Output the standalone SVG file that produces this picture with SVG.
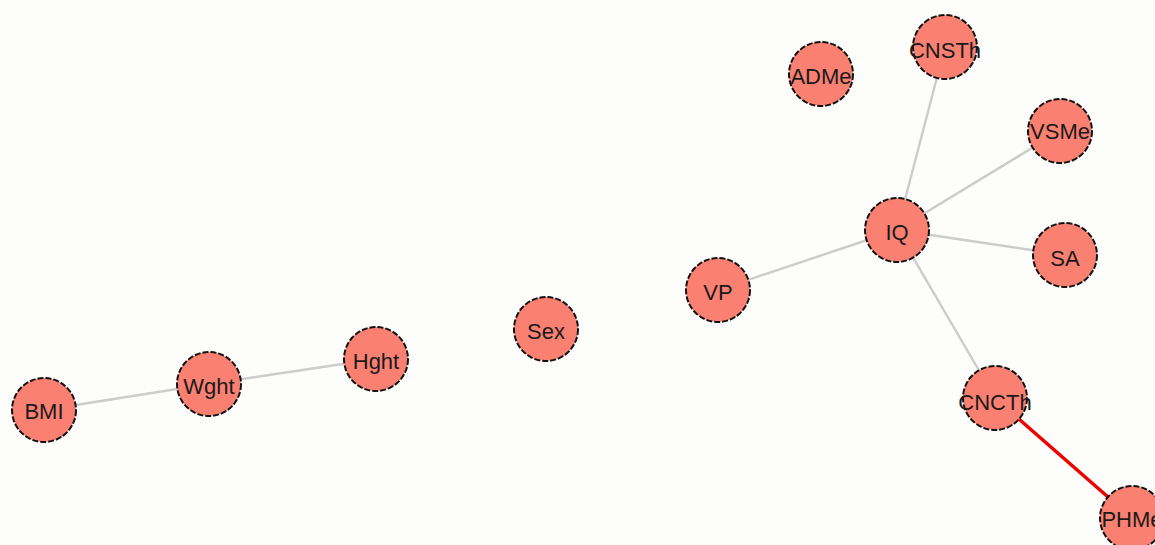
<svg xmlns="http://www.w3.org/2000/svg" width="1155" height="545" viewBox="0 0 1155 545">
<style>
.n{fill:#FA8072;stroke:#111;stroke-width:2;stroke-dasharray:6 2}
.t{font-family:"Liberation Sans",Arial,sans-serif;font-size:22px;fill:#1a1a1a;text-anchor:middle;dominant-baseline:central}
.e{stroke:#cccccc;stroke-width:2.4;fill:none}
.r{stroke:#ee0000;stroke-width:3.4;fill:none}
</style>
<rect width="1155" height="545" fill="#fdfdfc"/>
<g id="edges">
<line class="e" x1="897" y1="230" x2="945" y2="47"/>
<line class="e" x1="897" y1="230" x2="1060" y2="131"/>
<line class="e" x1="897" y1="230" x2="1065" y2="255"/>
<line class="e" x1="897" y1="230" x2="718" y2="290"/>
<line class="e" x1="897" y1="230" x2="995" y2="398"/>
<line class="r" x1="995" y1="398" x2="1132" y2="518"/>
<line class="e" x1="44" y1="410" x2="209" y2="384"/>
<line class="e" x1="209" y1="384" x2="376" y2="359"/>
</g>
<g id="ADMe"><circle class="n" cx="821" cy="74" r="32"/><text class="t" x="821" y="76">ADMe</text></g>
<g id="CNSTh"><circle class="n" cx="945" cy="47" r="32"/><text class="t" x="945" y="50">CNSTh</text></g>
<g id="VSMe"><circle class="n" cx="1060" cy="131" r="32"/><text class="t" x="1060" y="131">VSMe</text></g>
<g id="IQ"><circle class="n" cx="897" cy="230" r="32"/><text class="t" x="897" y="232">IQ</text></g>
<g id="SA"><circle class="n" cx="1065" cy="255" r="32"/><text class="t" x="1065" y="258">SA</text></g>
<g id="VP"><circle class="n" cx="718" cy="290" r="32"/><text class="t" x="718" y="292">VP</text></g>
<g id="Sex"><circle class="n" cx="546" cy="329" r="32"/><text class="t" x="546" y="331">Sex</text></g>
<g id="CNCTh"><circle class="n" cx="995" cy="398" r="32"/><text class="t" x="995" y="402">CNCTh</text></g>
<g id="PHMe"><circle class="n" cx="1132" cy="518" r="32"/><text class="t" x="1132" y="519">PHMe</text></g>
<g id="BMI"><circle class="n" cx="44" cy="410" r="32"/><text class="t" x="44" y="411">BMI</text></g>
<g id="Wght"><circle class="n" cx="209" cy="384" r="32"/><text class="t" x="209" y="386">Wght</text></g>
<g id="Hght"><circle class="n" cx="376" cy="359" r="32"/><text class="t" x="376" y="361">Hght</text></g>
</svg>
